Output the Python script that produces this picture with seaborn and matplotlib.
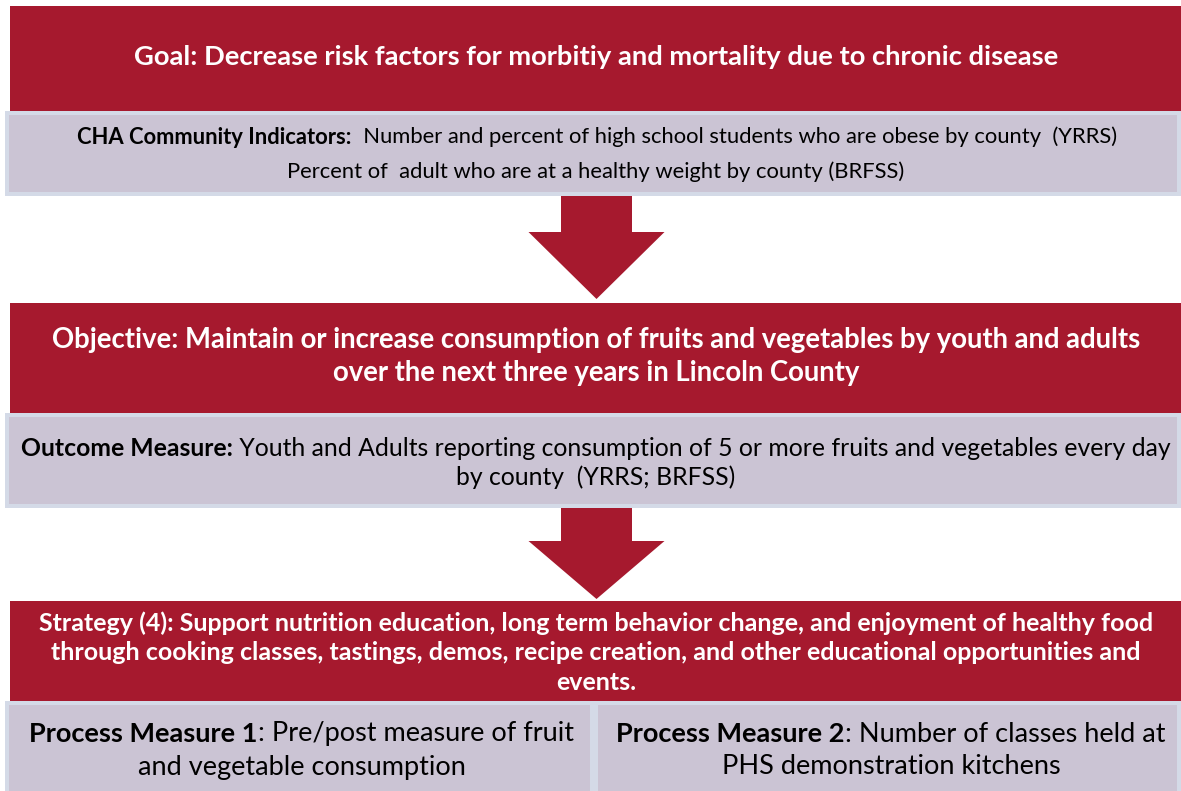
import matplotlib
matplotlib.use("Agg")
import matplotlib.pyplot as plt
import seaborn as sns
from matplotlib.patches import Rectangle, Polygon

sns.set_theme(style="white")
plt.rcParams['font.family'] = ['Lato', 'DejaVu Sans']

RED = "#A6192E"
GREY = "#CBC4D4"
EDGE = "#D4DAE7"

# ---- text content ----
goal_text = "Goal: Decrease risk factors for morbitiy and mortality due to chronic disease"
indicator_label = "CHA Community Indicators:"
indicator_lines = ["  Number and percent of high school students who are obese by county  (YRRS)",
                   "Percent of  adult who are at a healthy weight by county (BRFSS)"]
objective_lines = ["Objective: Maintain or increase consumption of fruits and vegetables by youth and adults",
                   "over the next three years in Lincoln County"]
outcome_label = "Outcome Measure:"
outcome_lines = [" Youth and Adults reporting consumption of 5 or more fruits and vegetables every day",
                 "by county  (YRRS; BRFSS)"]
strategy_lines = ["Strategy (4): Support nutrition education, long term behavior change, and enjoyment of healthy food",
                  "through cooking classes, tastings, demos, recipe creation, and other educational opportunities and",
                  "events."]
pm1_label = "Process Measure 1"
pm1_lines = [": Pre/post measure of fruit", "and vegetable consumption"]
pm2_label = "Process Measure 2"
pm2_lines = [": Number of classes held at", "PHS demonstration kitchens"]

fig = plt.figure(figsize=(11.81, 7.91), dpi=100)
ax = fig.add_axes([0, 0, 1, 1])
ax.set_xlim(0, 1181)
ax.set_ylim(791, 0)
ax.axis('off')
renderer = fig.canvas.get_renderer()


def red_box(x0, y0, x1, y1):
    ax.add_patch(Rectangle((x0, y0), x1 - x0, y1 - y0, facecolor=RED, edgecolor='none', zorder=1))


def grey_box(x0, y0, x1, y1, b=4):
    ax.add_patch(Rectangle((x0, y0), x1 - x0, y1 - y0, facecolor=EDGE, edgecolor='none', zorder=1))
    ax.add_patch(Rectangle((x0 + b, y0 + b), x1 - x0 - 2 * b, y1 - y0 - 2 * b,
                           facecolor=GREY, edgecolor='none', zorder=2))


def arrow(cx, y0, y_neck, y_tip, shaft_half=35.5, head_half=68):
    pts = [(cx - shaft_half, y0), (cx + shaft_half, y0), (cx + shaft_half, y_neck),
           (cx + head_half, y_neck), (cx, y_tip), (cx - head_half, y_neck),
           (cx - shaft_half, y_neck)]
    ax.add_patch(Polygon(pts, closed=True, facecolor=RED, edgecolor='none', zorder=1))


def mixed_line(cx, cy, parts, size, color='black'):
    texts = []
    for s, w in parts:
        t = ax.text(0, cy, s, fontsize=size, fontweight=w, va='center', ha='left',
                    color=color, zorder=5)
        texts.append(t)
    widths = [t.get_window_extent(renderer).width for t in texts]
    x = cx - sum(widths) / 2
    for t, wd in zip(texts, widths):
        t.set_x(x)
        x += wd


def line(cx, cy, s, size, weight='normal', color='black'):
    ax.text(cx, cy, s, fontsize=size, fontweight=weight, va='center', ha='center',
            color=color, zorder=5)


# ---- boxes ----
red_box(10, 6, 1181, 111)
grey_box(5, 111, 1181, 196)
arrow(596.5, 196, 232, 299)
red_box(10, 303, 1181, 413)
grey_box(5, 413, 1181, 508)
arrow(596.5, 508, 541, 599)
red_box(10, 601, 1181, 701)
grey_box(5, 701, 594, 800)
grey_box(594, 701, 1181, 800)

# ---- text ----
line(596, 57, goal_text, 19.7, 'bold', 'white')
mixed_line(597, 137, [(indicator_label, 'bold'), (indicator_lines[0], 'normal')], 15.8)
line(596, 172, indicator_lines[1], 15.8)
line(596, 340, objective_lines[0], 19.8, 'bold', 'white')
line(596, 373, objective_lines[1], 19.8, 'bold', 'white')
mixed_line(596, 448, [(outcome_label, 'bold'), (outcome_lines[0], 'normal')], 17.8)
line(596, 477, outcome_lines[1], 17.8)
for i, s in enumerate(strategy_lines):
    line(596, 623 + 30 * i, s, 18, 'bold', 'white')
mixed_line(301.5, 734, [(pm1_label, 'bold'), (pm1_lines[0], 'normal')], 19.5)
line(301.5, 767, pm1_lines[1], 19.5)
mixed_line(891, 734, [(pm2_label, 'bold'), (pm2_lines[0], 'normal')], 19.5)
line(891, 767, pm2_lines[1], 19.5)

fig.savefig("out.png", dpi=100)
